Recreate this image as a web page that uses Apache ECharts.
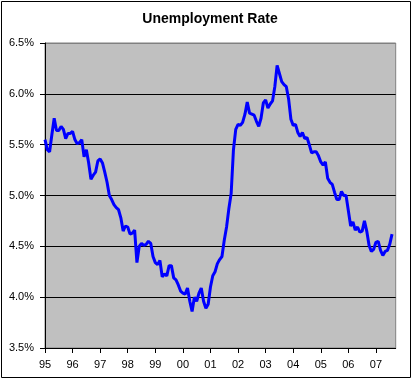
<!DOCTYPE html>
<html><head><meta charset="utf-8">
<script src="https://cdn.jsdelivr.net/npm/echarts@6/dist/echarts.min.js"></script>
<style>html,body{margin:0;padding:0;background:#fff}#c{width:420px;height:384px}</style>
</head><body><div id="c"></div>
<script>
const chartTitle = 'Unemployment Rate';
const yearLabels = ['95','96','97','98','99','00','01','02','03','04','05','06','07'];
const monthsPerYear = 12;
const xMaxMonths = 152.6;
const yMin = 3.5, yMax = 6.5, yStep = 0.5;
// monthly unemployment rate (%) starting Jan 1995
const rate = [
5.55,5.45,5.43,5.60,5.76,5.64,5.64,5.68,5.65,5.56,5.61,5.61,
5.63,5.55,5.51,5.52,5.55,5.38,5.45,5.32,5.16,5.20,5.23,5.34,
5.36,5.32,5.23,5.13,5.00,4.96,4.91,4.88,4.86,4.78,4.65,4.70,
4.69,4.62,4.63,4.66,4.34,4.50,4.53,4.51,4.52,4.55,4.53,4.40,
4.34,4.32,4.36,4.20,4.23,4.21,4.31,4.31,4.19,4.17,4.12,4.06,
4.04,4.03,4.09,3.96,3.86,4.00,3.96,4.04,4.09,3.96,3.89,3.93,
4.10,4.21,4.25,4.33,4.37,4.40,4.56,4.69,4.87,5.02,5.45,5.65,
5.70,5.69,5.72,5.80,5.92,5.81,5.80,5.79,5.73,5.68,5.76,5.91,
5.94,5.86,5.90,5.93,6.07,6.28,6.20,6.12,6.09,6.07,5.95,5.75,
5.69,5.70,5.62,5.58,5.62,5.56,5.57,5.50,5.42,5.43,5.43,5.39,
5.33,5.30,5.33,5.17,5.13,5.11,5.03,4.96,4.96,5.04,5.00,5.00,
4.85,4.70,4.74,4.66,4.69,4.64,4.65,4.75,4.65,4.51,4.45,4.47,
4.54,4.55,4.46,4.41,4.45,4.46,4.52,4.62
];

const FONT = "'Liberation Sans', Arial, sans-serif";
const yearTicks = yearLabels.map((_, k) => k * monthsPerYear);
const nLines = Math.round((yMax - yMin) / yStep) + 1;
const splitColors = [];
for (let k = 0; k < nLines; k++) splitColors.push(k === nLines - 1 ? '#808080' : '#000000');

const chart = echarts.init(document.getElementById('c'), null, {renderer: 'canvas'});
chart.setOption({
  animation: false,
  backgroundColor: '#ffffff',
  title: {
    text: chartTitle, left: 'center', top: 12, padding: 0,
    textStyle: {fontFamily: FONT, fontSize: 14, fontWeight: 'bold', color: '#000'}
  },
  graphic: [{
    type: 'rect', silent: true, z: -10,
    shape: {x: 1.5, y: 1.5, width: 409, height: 376},
    style: {fill: 'none', stroke: '#000', lineWidth: 1}
  }],
  grid: {
    left: 45, top: 43, right: 24.3, bottom: 36,
    containLabel: false, outerBoundsMode: 'none',
    show: true, backgroundColor: '#C0C0C0', borderColor: '#808080', borderWidth: 1, z: 0
  },
  xAxis: {
    type: 'value', min: 0, max: xMaxMonths, interval: monthsPerYear, z: 1,
    axisLine: {show: true, onZero: false, lineStyle: {color: '#000', width: 1}},
    axisTick: {show: true, length: 5, lineStyle: {color: '#000'}, customValues: yearTicks},
    axisLabel: {
      show: true, margin: 11, fontFamily: FONT, fontSize: 11, color: '#000',
      customValues: yearTicks,
      formatter: v => yearLabels[Math.round(v / monthsPerYear)] || ''
    },
    splitLine: {show: false}
  },
  yAxis: {
    type: 'value', min: yMin, max: yMax, interval: yStep, z: 1,
    axisLine: {show: true, lineStyle: {color: '#000', width: 1}},
    axisTick: {show: true, length: 5, lineStyle: {color: '#000'}},
    axisLabel: {
      margin: 11, fontFamily: FONT, fontSize: 11, color: '#000',
      formatter: v => v.toFixed(1) + '%'
    },
    splitLine: {show: true, lineStyle: {color: splitColors, width: 1}}
  },
  series: [{
    type: 'line', z: 3,
    data: rate.map((v, i) => [i, v]),
    showSymbol: false, symbol: 'none',
    lineStyle: {color: '#0000FF', width: 3},
    itemStyle: {color: '#0000FF'}
  }]
});
</script>
</body></html>
